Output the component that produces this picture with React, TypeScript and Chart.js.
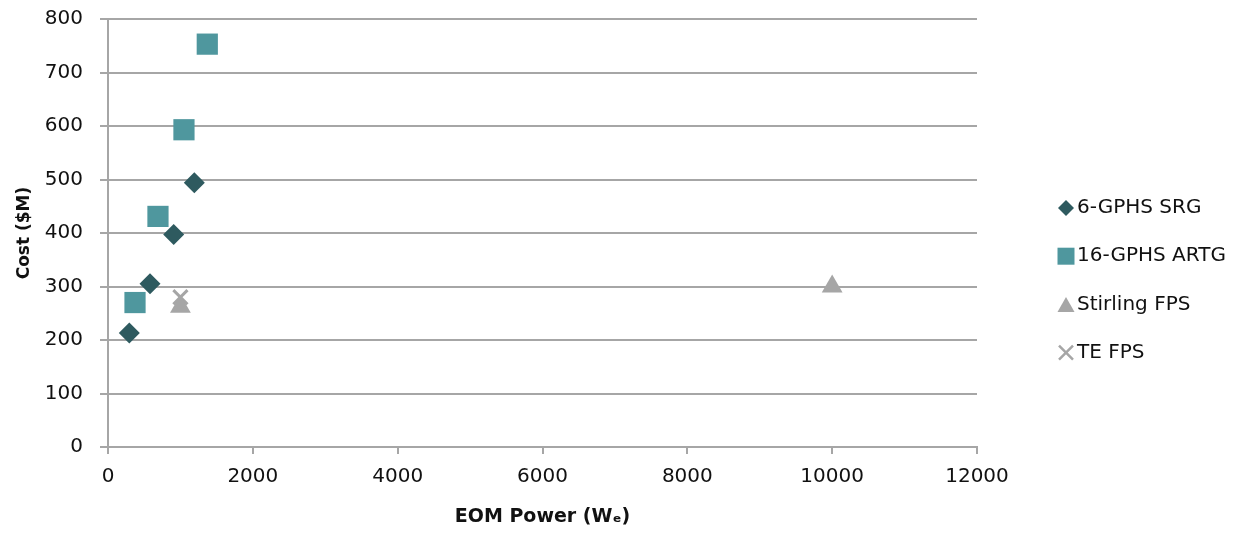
import React, { useEffect, useRef } from "react";
import { Chart, registerables } from "chart.js";

Chart.register(...registerables);

const seriesNames = ["6-GPHS SRG", "16-GPHS ARTG", "Stirling FPS", "TE FPS"];
const srgX = [294, 580, 907, 1192];
const srgY = [213, 305, 397, 494];
const artgX = [373, 690, 1049, 1371];
const artgY = [270, 431, 593, 753];
const stirlingX = [1000, 10000];
const stirlingY = [262, 300];
const teX = [1000];
const teY = [280];

const xTitle = "EOM Power (Wₑ)";
const yTitle = "Cost ($M)";

const FONT = "'DejaVu Sans', sans-serif";
const GRID = "#a6a6a6";
const COLORS = ["#2e5a5f", "#4f979e", "#a6a6a6", "#a6a6a6"];
const STYLES = ["rectRot", "rect", "triangle", "crossRot"];

const pts = (xs: number[], ys: number[]) => xs.map((x, i) => ({ x, y: ys[i] }));

const legendPlugin = {
  id: "customLegend",
  afterDraw(chart: any) {
    const ctx = chart.ctx;
    const mx = 1058;
    const tx = 1069;
    const y0 = 204;
    const step = 48.2;
    ctx.save();
    seriesNames.forEach((name, i) => {
      const cy = y0 + i * step;
      const style = STYLES[i];
      ctx.fillStyle = COLORS[i];
      ctx.strokeStyle = COLORS[i];
      ctx.beginPath();
      if (style === "rectRot") {
        const r = 8;
        ctx.moveTo(mx - r, cy);
        ctx.lineTo(mx, cy - r);
        ctx.lineTo(mx + r, cy);
        ctx.lineTo(mx, cy + r);
        ctx.closePath();
        ctx.fill();
      } else if (style === "rect") {
        ctx.rect(mx - 8.5, cy - 8.5, 17, 17);
        ctx.fill();
      } else if (style === "triangle") {
        ctx.moveTo(mx - 8.5, cy + 7.5);
        ctx.lineTo(mx, cy - 7.5);
        ctx.lineTo(mx + 8.5, cy + 7.5);
        ctx.closePath();
        ctx.fill();
      } else {
        ctx.lineWidth = 2.5;
        const r = 7;
        ctx.moveTo(mx - r, cy - r);
        ctx.lineTo(mx + r, cy + r);
        ctx.moveTo(mx + r, cy - r);
        ctx.lineTo(mx - r, cy + r);
        ctx.stroke();
      }
      ctx.fillStyle = "#111";
      ctx.font = `20px ${FONT}`;
      ctx.textAlign = "left";
      ctx.textBaseline = "middle";
      ctx.fillText(name, tx, cy);
    });
    ctx.restore();
  },
};

export default function App() {
  const ref = useRef<HTMLCanvasElement | null>(null);
  useEffect(() => {
    if (!ref.current) return;
    const chart = new Chart(ref.current, {
      type: "scatter",
      data: {
        datasets: [
          {
            label: seriesNames[0],
            data: pts(srgX, srgY),
            pointStyle: "rectRot",
            pointRadius: 10.5,
            backgroundColor: COLORS[0],
            borderColor: COLORS[0],
            borderWidth: 0,
          },
          {
            label: seriesNames[1],
            data: pts(artgX, artgY),
            pointStyle: "rect",
            pointRadius: 15,
            backgroundColor: COLORS[1],
            borderColor: COLORS[1],
            borderWidth: 0,
          },
          {
            label: seriesNames[2],
            data: pts(stirlingX, stirlingY),
            pointStyle: "triangle",
            pointRadius: 12,
            backgroundColor: COLORS[2],
            borderColor: COLORS[2],
            borderWidth: 0,
          },
          {
            label: seriesNames[3],
            data: pts(teX, teY),
            pointStyle: "crossRot",
            pointRadius: 10,
            backgroundColor: COLORS[3],
            borderColor: COLORS[3],
            borderWidth: 3,
          },
        ],
      },
      options: {
        animation: false,
        responsive: true,
        maintainAspectRatio: false,
        layout: { padding: { top: 0, right: 264, bottom: 0, left: 0 } },
        plugins: {
          tooltip: { enabled: false },
          legend: { display: false },
        },
        scales: {
          x: {
            type: "linear",
            min: 0,
            max: 12000,
            afterFit: (s: any) => {
              s.height = 80;
            },
            ticks: {
              stepSize: 2000,
              padding: 11,
              color: "#111",
              font: { size: 20, family: FONT },
              callback: (v: any) => String(v),
            },
            grid: {
              display: true,
              drawOnChartArea: false,
              drawTicks: true,
              tickLength: 7,
              color: GRID,
              lineWidth: 2,
            },
            border: { display: true, color: GRID, width: 2 },
            title: {
              display: true,
              text: xTitle,
              color: "#111",
              padding: { top: 0, bottom: 0 },
              font: { size: 19, weight: "bold", family: FONT, lineHeight: 1.0 },
            },
          },
          y: {
            type: "linear",
            min: 0,
            max: 800,
            afterFit: (s: any) => {
              s.width = 100;
              s.paddingTop = 6;
            },
            ticks: {
              stepSize: 100,
              padding: 17,
              color: "#111",
              font: { size: 20, family: FONT },
              callback: (v: any) => String(v),
            },
            grid: {
              display: true,
              drawTicks: true,
              tickLength: 8,
              color: GRID,
              lineWidth: 2,
            },
            border: { display: true, color: GRID, width: 2 },
            title: {
              display: true,
              text: yTitle,
              color: "#111",
              padding: { top: 6, bottom: 6 },
              font: { size: 17, weight: "bold", family: FONT },
            },
          },
        },
      },
      plugins: [legendPlugin],
    });
    return () => chart.destroy();
  }, []);
  return (
    <div style={{ position: "relative", width: "100%", height: "523px", marginTop: "-4px" }}>
      <canvas ref={ref} />
    </div>
  );
}
